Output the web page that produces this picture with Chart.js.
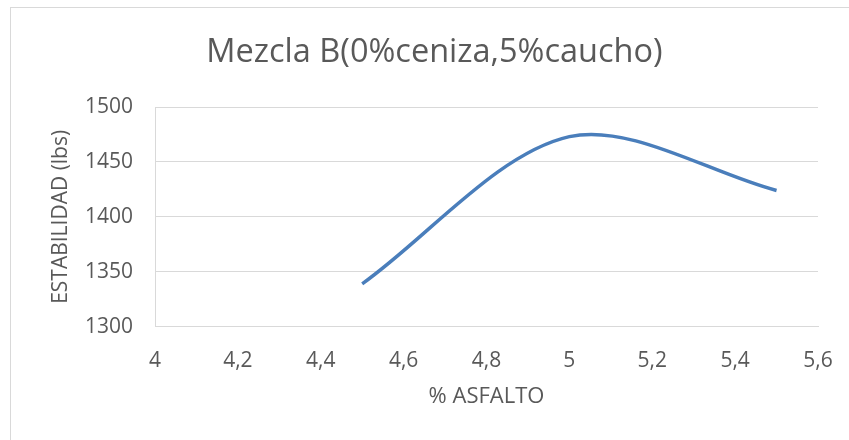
<!DOCTYPE html>
<html lang="es">
<head>
    <meta charset="UTF-8">
    <title>Mezcla B(0%ceniza,5%caucho)</title>
    <script src="https://cdn.jsdelivr.net/npm/chart.js"></script>
    <style>
        html, body {
            margin: 0;
            padding: 0;
            background: #ffffff;
            overflow: hidden;
        }
        .frame {
            position: absolute;
            left: 10px;
            top: 7px;
            width: 900px;
            height: 500px;
            border: 1px solid #d9d9d9;
        }
        .wrap {
            position: absolute;
            left: 0;
            top: 0;
            width: 849px;
            height: 440px;
        }
    </style>
</head>
<body>
    <div class="frame"></div>
    <div class="wrap">
        <canvas id="grafica"></canvas>
    </div>

    <script>
        // Datos
        const asfalto = [4.5, 5.0, 5.5];          // % asfalto
        const estabilidad = [1339, 1473, 1424];   // lbs
        const ticksX = [4, 4.2, 4.4, 4.6, 4.8, 5, 5.2, 5.4, 5.6];
        const ticksY = [1300, 1350, 1400, 1450, 1500];

        const gris = '#595959';
        const linea = '#d9d9d9';
        const fuente = "'Open Sans', sans-serif";

        const puntos = asfalto.map((x, i) => ({ x: x, y: estabilidad[i] }));

        function coma(v) {
            return String(+Number(v).toFixed(1)).replace('.', ',');
        }

        const ctx = document.getElementById('grafica').getContext('2d');
        new Chart(ctx, {
            type: 'scatter',
            data: {
                datasets: [{
                    label: 'Mezcla B',
                    data: puntos,
                    showLine: true,
                    borderColor: '#4a7ebb',
                    borderWidth: 3.5,
                    pointRadius: 0,
                    tension: 0.32,
                    fill: false
                }]
            },
            options: {
                responsive: true,
                maintainAspectRatio: false,
                animation: false,
                // el título de Excel queda centrado en el marco, no en el lienzo
                layout: { padding: { left: 51, right: 31, top: 0, bottom: 0 } },
                plugins: {
                    legend: { display: false },
                    tooltip: { enabled: false },
                    title: {
                        display: true,
                        text: 'Mezcla B(0%ceniza,5%caucho)',
                        color: gris,
                        font: { family: fuente, size: 32.5, weight: 'normal', lineHeight: 1.2 },
                        padding: { top: 33.5, bottom: 34.5 }
                    }
                },
                scales: {
                    x: {
                        type: 'linear',
                        min: ticksX[0],
                        max: ticksX[ticksX.length - 1],
                        afterBuildTicks: s => { s.ticks = ticksX.map(v => ({ value: v })); },
                        afterFit: s => { s.height = 113.3; s.paddingLeft = 0; s.paddingRight = 0; },
                        grid: { display: false, drawTicks: false },
                        border: { display: true, color: linea, width: 1 },
                        ticks: {
                            color: gris,
                            padding: 22,
                            maxRotation: 0,
                            font: { family: fuente, size: 21 },
                            callback: v => coma(v)
                        },
                        title: {
                            display: true,
                            text: '% ASFALTO',
                            color: gris,
                            font: { family: fuente, size: 22 },
                            padding: { top: 0, bottom: 30 }
                        }
                    },
                    y: {
                        min: ticksY[0],
                        max: ticksY[ticksY.length - 1],
                        afterBuildTicks: s => { s.ticks = ticksY.map(v => ({ value: v })); },
                        afterFit: s => { s.width = 104; s.paddingTop = 0; s.paddingBottom = 0; },
                        grid: { color: linea, lineWidth: 1, drawTicks: false },
                        border: { display: true, color: linea, width: 1 },
                        ticks: {
                            color: gris,
                            padding: 22,
                            font: { family: fuente, size: 21 },
                            callback: v => String(v)
                        },
                        title: {
                            display: true,
                            text: 'ESTABILIDAD (lbs)',
                            color: gris,
                            font: { family: fuente, size: 21 },
                            padding: { top: -2.6, bottom: 0 }
                        }
                    }
                }
            }
        });
    </script>
</body>
</html>
